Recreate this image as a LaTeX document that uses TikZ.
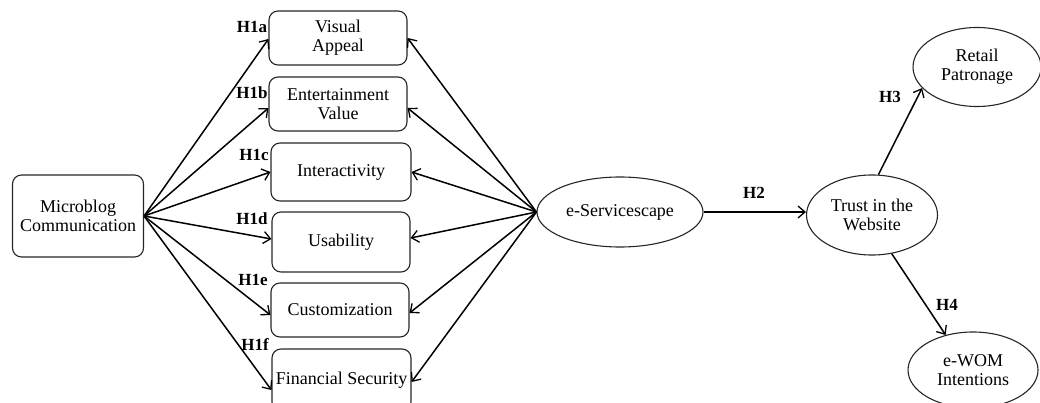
\documentclass[tikz,border=0pt]{standalone}
\usepackage{fontspec}
\setmainfont{Liberation Serif}
\usetikzlibrary{arrows.meta,shapes.geometric,calc}
\begin{document}
\begin{tikzpicture}[x=1pt,y=-1pt,
  box/.style={draw=black!85, rounded corners=9pt, line width=1.1pt, align=center,
    font=\fontsize{18}{19}\selectfont, inner sep=0pt},
  oval/.style={draw=black!85, ellipse, line width=1.1pt, align=center,
    font=\fontsize{18}{19}\selectfont, inner sep=0pt},
  hyp/.style={font=\fontsize{17}{17}\selectfont\bfseries, inner sep=0pt},
  arr/.style={line width=1.5pt, -{Straight Barb[length=7pt,width=12pt,line width=1.3pt]}}
]
\path[use as bounding box, clip] (0,0) rectangle (1040,403);

% left boxes
\node[box, minimum width=131pt, minimum height=82pt] (mc) at (78,216) {Microblog\\Communication};
\node[box, minimum width=138pt, minimum height=54pt] (va) at (338,38) {Visual\\Appeal};
\node[box, minimum width=138pt, minimum height=54pt] (ev) at (338,104) {Entertainment\\Value};
\node[box, minimum width=140pt, minimum height=58pt] (ia) at (341,172) {Interactivity};
\node[box, minimum width=138pt, minimum height=60pt] (us) at (341,242) {Usability};
\node[box, minimum width=138pt, minimum height=54pt] (cu) at (340,310) {Customization};
\node[box, minimum width=139pt, minimum height=62pt] (fs) at (341.5,380) {Financial Security};

% ellipses
\node[oval, minimum width=166pt, minimum height=70pt] (es) at (620,212) {e-Servicescape};
\node[oval, minimum width=131pt, minimum height=80pt] (trust) at (872,215) {Trust in the\\Website};
\node[oval, minimum width=128pt, minimum height=79pt] (retail) at (977,67) {Retail\\Patronage};
\node[oval, minimum width=130pt, minimum height=76pt] (ewom) at (973,370) {e-WOM\\Intentions};

% H1 arrows
\draw[arr] (mc.east) -- ([yshift=-1pt]va.west);
\draw[arr] (mc.east) -- ([yshift=-4pt]ev.west);
\draw[arr] (mc.east) -- (ia.west);
\draw[arr] (mc.east) -- ([yshift=3pt]us.west);
\draw[arr] (mc.east) -- ([yshift=-5pt]cu.west);
\draw[arr] (mc.east) -- ([yshift=-10pt]fs.west);

% e-Servicescape arrows
\draw[arr] (es.west) -- (va.east);
\draw[arr] (es.west) -- ([yshift=-4pt]ev.east);
\draw[arr] (es.west) -- (ia.east);
\draw[arr] (es.west) -- ([yshift=4pt]us.east);
\draw[arr] (es.west) -- ([yshift=-3pt]cu.east);
\draw[arr] (es.west) -- ([yshift=-2pt]fs.east);

% right arrows
\draw[arr] (es.east) -- (es.east -| trust.west);
\draw[arr] (trust.81) -- (retail.201);
\draw[arr] (trust.-63) -- (ewom.128);

% labels
\node[hyp] (h1a) at (252,27) {H1a};
\node[hyp] (h1b) at (252,93) {H1b};
\node[hyp] (h1c) at (254,155) {H1c};
\node[hyp] (h1d) at (252,219) {H1d};
\node[hyp] (h1e) at (253,280) {H1e};
\node[hyp] (h1f) at (255,345) {H1f};
\node[hyp] (h2) at (754,193) {H2};
\node[hyp] (h3) at (890,97) {H3};
\node[hyp] (h4) at (947,305) {H4};
\end{tikzpicture}
\end{document}
